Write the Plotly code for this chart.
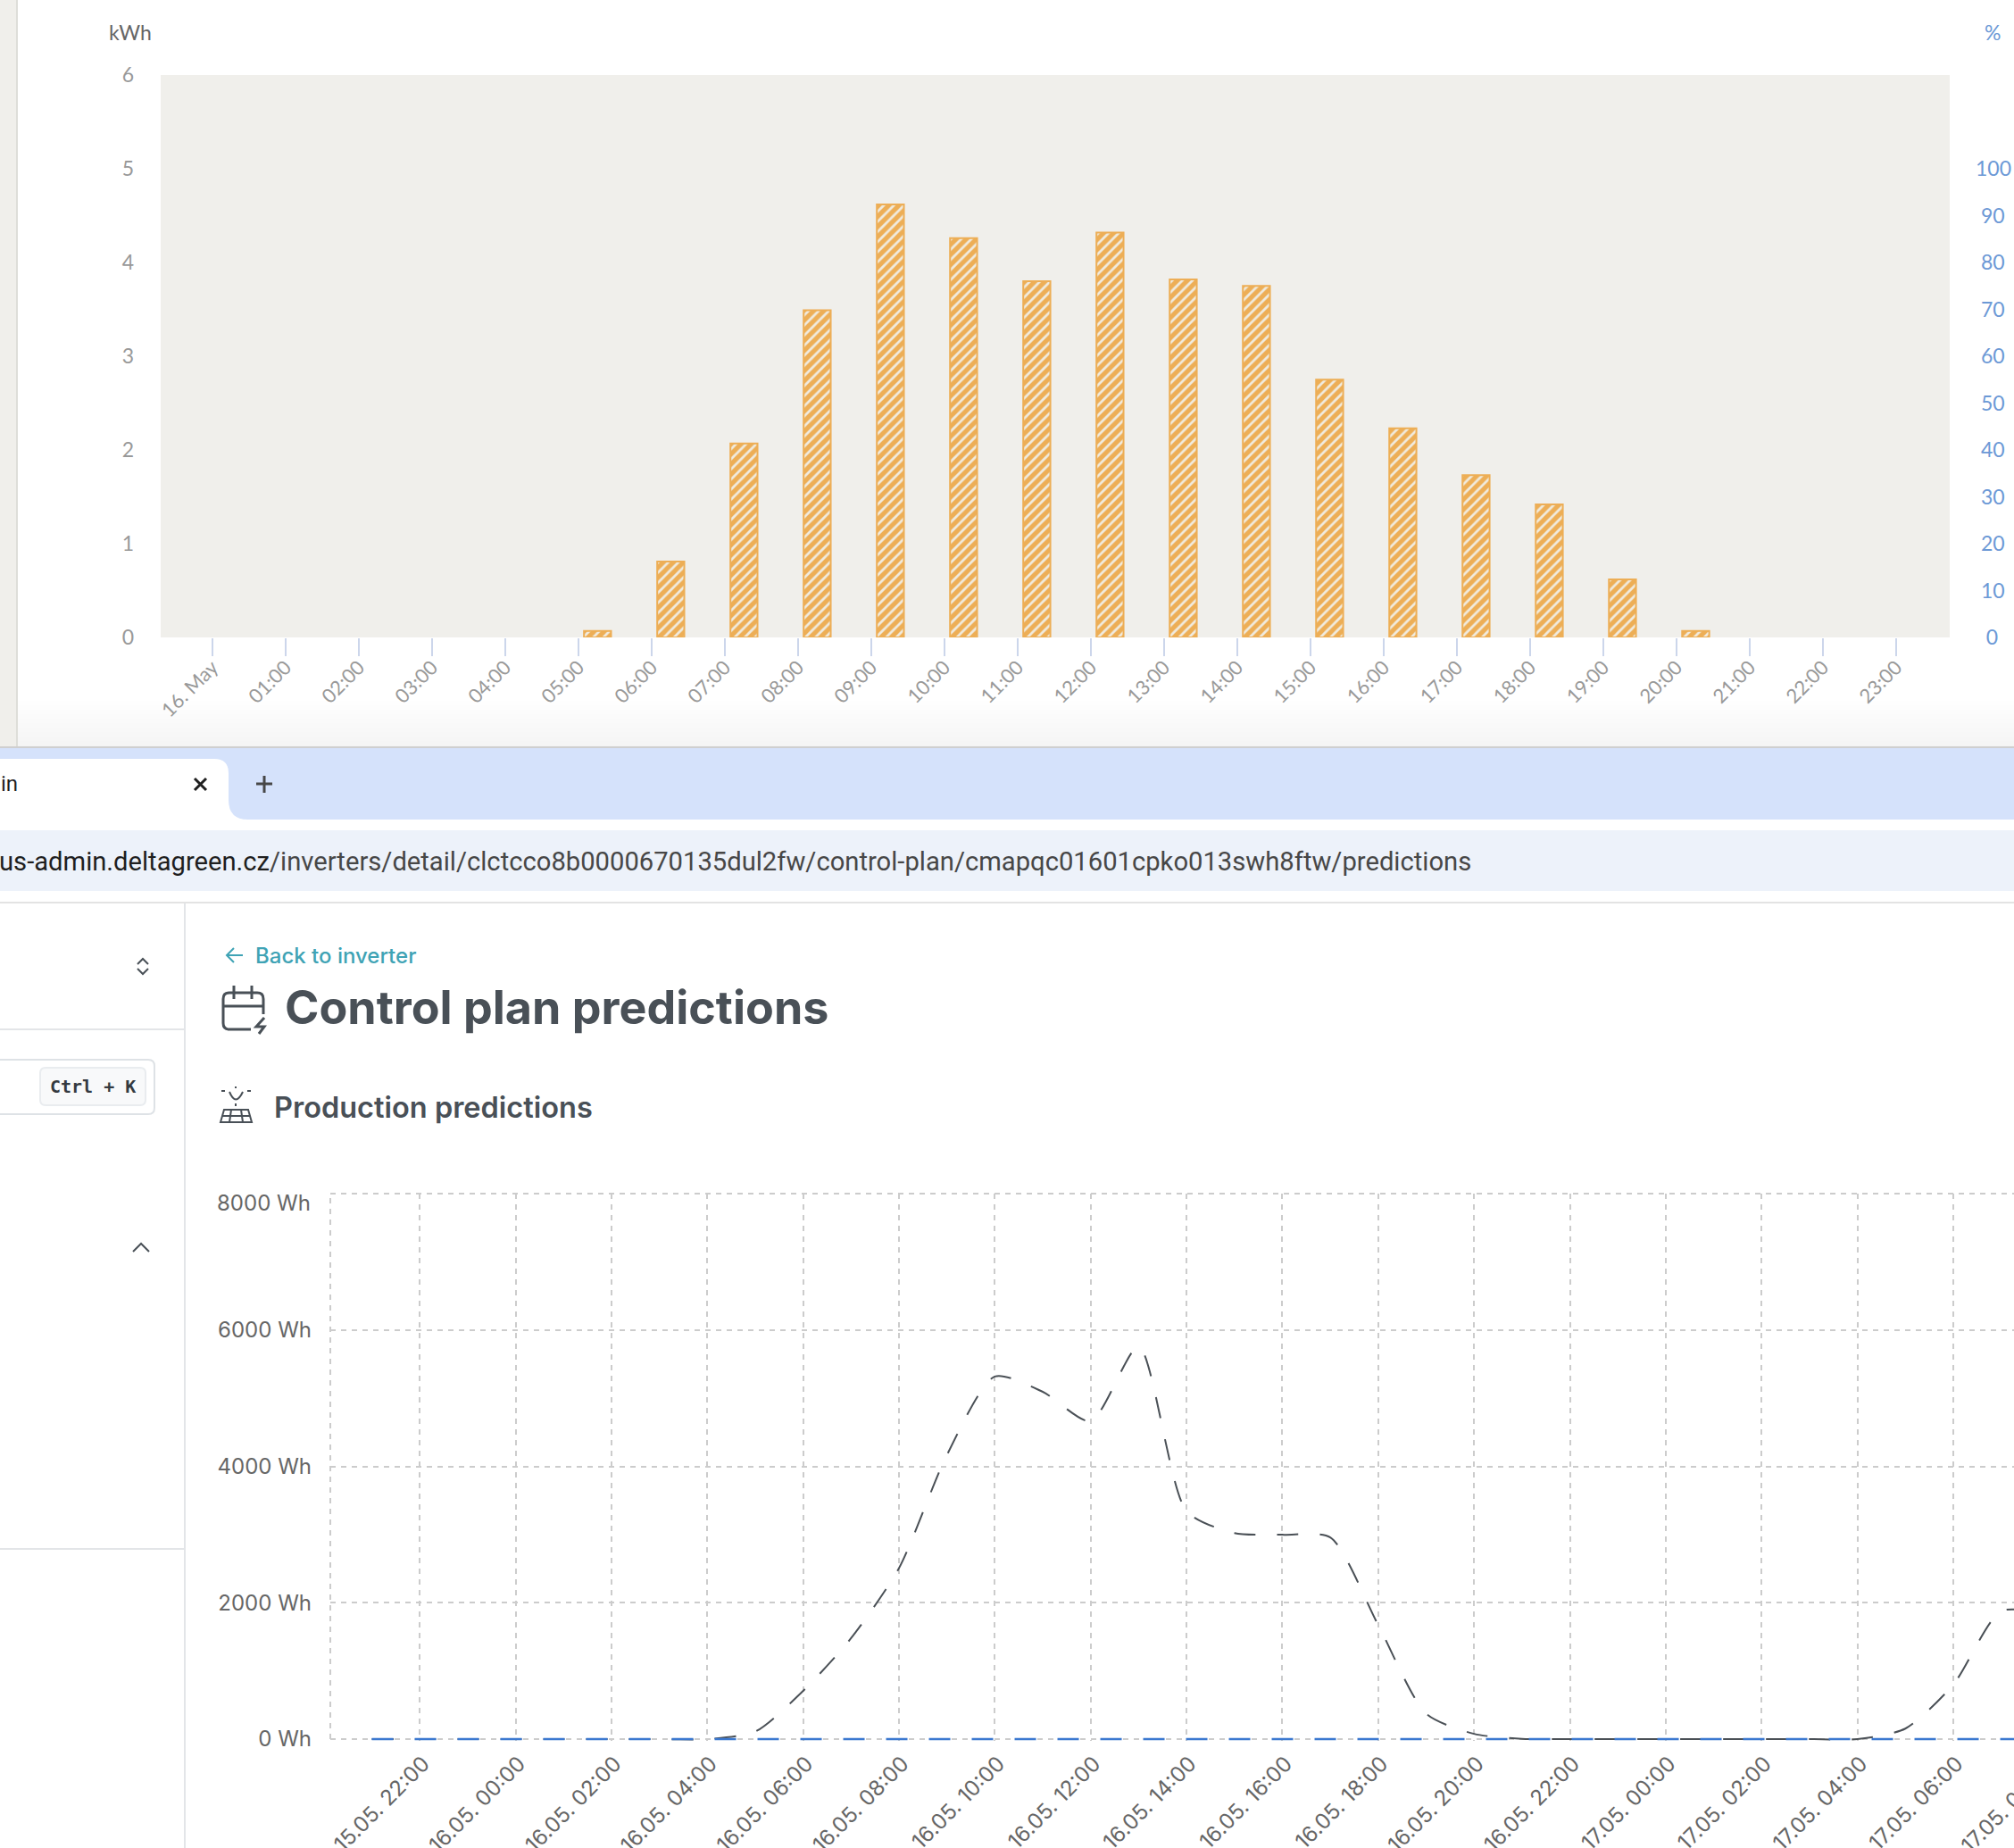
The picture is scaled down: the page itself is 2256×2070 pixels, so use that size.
import plotly.graph_objects as go

W, H = 2256, 2070

# top chart: hourly production, kWh
hour_labels = ["16. May", "01:00", "02:00", "03:00", "04:00", "05:00", "06:00", "07:00",
               "08:00", "09:00", "10:00", "11:00", "12:00", "13:00", "14:00", "15:00",
               "16:00", "17:00", "18:00", "19:00", "20:00", "21:00", "22:00", "23:00"]
hours = list(range(24))
production_kwh = [None, None, None, None, None, 0.07, 0.81, 2.07, 3.49, 4.62, 4.26, 3.80, 4.32, 3.82, 3.75,
                  2.75, 2.23, 1.73, 1.42, 0.62, 0.07, None, None, None]
kwh_ticks = [0, 1, 2, 3, 4, 5, 6]
pct_ticks = [0, 10, 20, 30, 40, 50, 60, 70, 80, 90, 100]
# nbsp padding, the labels sit centred in the original
pct_labels = ["\u00a0\u00a00"] + [f"\u00a0{v}" for v in pct_ticks[1:-1]] + ["100"]

# bottom chart: predictions, Wh
pred_times = ["2025-05-15 21:00", "2025-05-15 22:00", "2025-05-15 23:00",
              "2025-05-16 00:00", "2025-05-16 01:00", "2025-05-16 02:00", "2025-05-16 03:00",
              "2025-05-16 04:00", "2025-05-16 05:00", "2025-05-16 06:00", "2025-05-16 07:00",
              "2025-05-16 08:00", "2025-05-16 09:00", "2025-05-16 10:00", "2025-05-16 11:00",
              "2025-05-16 12:00", "2025-05-16 13:00", "2025-05-16 14:00", "2025-05-16 15:00",
              "2025-05-16 16:00", "2025-05-16 17:00", "2025-05-16 18:00", "2025-05-16 19:00",
              "2025-05-16 20:00", "2025-05-16 21:00", "2025-05-16 22:00", "2025-05-16 23:00",
              "2025-05-17 00:00", "2025-05-17 01:00", "2025-05-17 02:00", "2025-05-17 03:00",
              "2025-05-17 04:00", "2025-05-17 05:00", "2025-05-17 06:00", "2025-05-17 07:00",
              "2025-05-17 08:00"]
predicted_wh = [0, 0, 0, 0, 0, 0, 0, 0, 110, 707, 1480, 2508, 4167, 5318, 5093, 4662, 5755,
                3344, 3022, 2997, 2958, 1672, 373, 77, 5, 0, 0, 0, 0, 0, 0, 0, 154, 800, 1878, 1820]
actual_wh = [0] * 36
date_ticks = ["2025-05-15 22:00", "2025-05-16 00:00", "2025-05-16 02:00", "2025-05-16 04:00",
              "2025-05-16 06:00", "2025-05-16 08:00", "2025-05-16 10:00", "2025-05-16 12:00",
              "2025-05-16 14:00", "2025-05-16 16:00", "2025-05-16 18:00", "2025-05-16 20:00",
              "2025-05-16 22:00", "2025-05-17 00:00", "2025-05-17 02:00", "2025-05-17 04:00",
              "2025-05-17 06:00"]
date_labels = ["15.05. 22:00", "16.05. 00:00", "16.05. 02:00", "16.05. 04:00", "16.05. 06:00",
               "16.05. 08:00", "16.05. 10:00", "16.05. 12:00", "16.05. 14:00", "16.05. 16:00",
               "16.05. 18:00", "16.05. 20:00", "16.05. 22:00", "17.05. 00:00", "17.05. 02:00",
               "17.05. 04:00", "17.05. 06:00"]
wh_ticks = [0, 2000, 4000, 6000, 8000]
wh_labels = ["0 Wh", "2000 Wh", "4000 Wh", "6000 Wh", ""]

GRID = "#CCCCCC"
GRID_DASH = "6px,6px"


def fx(x):
    return x / W


def fy(y):
    return 1 - y / H


def rect(x0, y0, x1, y1, fill, line=None, lw=0):
    return dict(type="rect", xref="paper", yref="paper", layer="below",
                x0=fx(x0), x1=fx(x1), y0=fy(y0), y1=fy(y1),
                fillcolor=fill, line=dict(color=line or fill, width=lw))


def poly(points, color, lw=2, fill=None):
    # points given in page pixels, a few of them are curve commands
    d = ""
    for p in points:
        if isinstance(p, str):
            d += p + " "
        else:
            d += f"{fx(p[0]):.5f},{fy(p[1]):.5f} "
    return dict(type="path", xref="paper", yref="paper", layer="above", path=d.strip(),
                line=dict(color=color, width=lw), fillcolor=fill or "rgba(0,0,0,0)")


def text(x, y, s, color, size, family="Inter", weight=400, xanchor="left", angle=0):
    return dict(xref="paper", yref="paper", x=fx(x), y=fy(y), text=s, showarrow=False,
                xanchor=xanchor, yanchor="middle", textangle=angle,
                font=dict(family=family, size=size, color=color, weight=weight))


fig = go.Figure()
fig.add_trace(go.Bar(
    x=hours, y=production_kwh, offset=0.075, width=0.37, xaxis="x", yaxis="y",
    marker=dict(color="#EDAE56", line=dict(color="#EDAE56", width=2),
                pattern=dict(shape="/", size=8, solidity=0.65, fgcolor="#EDAE56", fgopacity=1,
                             bgcolor="#F0EBDF", fillmode="replace")),
))
# right axis has no bars on it, only its scale
fig.add_trace(go.Scatter(x=hours, y=[None] * 24, xaxis="x", yaxis="y2", mode="lines"))
fig.add_trace(go.Scatter(
    x=pred_times, y=predicted_wh, xaxis="x2", yaxis="y3", mode="lines",
    line=dict(color="#4A5056", width=2, dash="24px,24px", shape="spline", smoothing=0.7),
))
fig.add_trace(go.Scatter(
    x=pred_times, y=actual_wh, xaxis="x2", yaxis="y3", mode="lines",
    line=dict(color="#3B78D0", width=2.5, dash="24px,24px"),
))

shapes = [
    # left strip and fade of the upper screenshot
    rect(0, 0, 18, 838, "#F0EFEB"),
    rect(18, 0, 20, 838, "#DEDED9"),
]
for i in range(12):
    v = 255 - i
    shapes.append(rect(20, 780 + i * 5, W, 785 + i * 5 + 1, f"rgb({v},{v},{v})"))
shapes += [
    rect(0, 836, W, 838, "#CFCFCF"),
    # browser bars
    rect(0, 838, W, 918, "#D5E2FB"),
    rect(0, 918, W, 1010, "#FFFFFF"),
    rect(0, 930, W, 998, "#EDF2FA"),
    rect(0, 1010, W, 1012, "#E3E3E3"),
    rect(206, 1012, 208, H, "#E3E5E8"),
    rect(0, 1152, 207, 1154, "#E3E5E8"),
    rect(0, 1734, 207, 1736, "#E3E5E8"),
    # top chart background
    dict(type="rect", xref="x domain", yref="y domain", layer="below", x0=0, x1=1, y0=0, y1=1,
         fillcolor="#F0EFEB", line=dict(width=0)),
    # edges of the lower grid, plotly drops the gridlines that sit on them
    dict(type="line", xref="x2 domain", yref="y3", layer="below", x0=0, x1=0, y0=0, y1=8000,
         line=dict(color=GRID, width=2, dash=GRID_DASH)),
    dict(type="line", xref="x2 domain", yref="y3 domain", layer="below", x0=0, x1=1, y0=1, y1=1,
         line=dict(color=GRID, width=2, dash=GRID_DASH)),
    # search box
    dict(type="path", xref="paper", yref="paper", layer="above",
         path=f"M {fx(-2)},{fy(1187)} L {fx(166)},{fy(1187)} Q {fx(173)},{fy(1187)} {fx(173)},{fy(1194)} "
              f"L {fx(173)},{fy(1241)} Q {fx(173)},{fy(1248)} {fx(166)},{fy(1248)} L {fx(-2)},{fy(1248)}",
         line=dict(color="#DEE2E6", width=2), fillcolor="#FFFFFF"),
    dict(type="path", xref="paper", yref="paper", layer="above",
         path=f"M {fx(51)},{fy(1196)} L {fx(157)},{fy(1196)} Q {fx(163)},{fy(1196)} {fx(163)},{fy(1202)} "
              f"L {fx(163)},{fy(1232)} Q {fx(163)},{fy(1238)} {fx(157)},{fy(1238)} L {fx(51)},{fy(1238)} "
              f"Q {fx(45)},{fy(1238)} {fx(45)},{fy(1232)} L {fx(45)},{fy(1202)} Q {fx(45)},{fy(1196)} {fx(51)},{fy(1196)} Z",
         line=dict(color="#E9ECEF", width=2), fillcolor="#F8F9FA"),
    # active tab
    dict(type="path", xref="paper", yref="paper", layer="above",
         path=f"M {fx(0)},{fy(850)} L {fx(240)},{fy(850)} Q {fx(256)},{fy(850)} {fx(256)},{fy(866)} "
              f"L {fx(256)},{fy(896)} Q {fx(256)},{fy(918)} {fx(278)},{fy(918)} L {fx(0)},{fy(918)} Z",
         line=dict(width=0), fillcolor="#FFFFFF"),
    # tab close and plus
    poly(["M", (218, 872), "L", (231, 885), "M", (231, 872), "L", (218, 885)], "#1F1F1F", 3),
    poly(["M", (296, 869), "L", (296, 888), "M", (287, 878), "L", (305, 878)], "#474747", 3),
    # sidebar chevrons
    poly(["M", (154, 1080), "L", (160, 1074), "L", (166, 1080)], "#495057", 2),
    poly(["M", (154, 1085), "L", (160, 1091), "L", (166, 1085)], "#495057", 2),
    poly(["M", (149, 1402), "L", (158, 1393), "L", (167, 1402)], "#495057", 2),
    # back arrow
    poly(["M", (262, 1062), "L", (254, 1070), "L", (262, 1078), "M", (254, 1070), "L", (272, 1070)], "#3FA3B5", 2),
    # calendar icon
    poly(["M", (281, 1153), "L", (257, 1153), "Q", (250, 1153), (250, 1146), "L", (250, 1119), "Q", (250, 1112), (257, 1112),
          "L", (288, 1112), "Q", (295, 1112), (295, 1119), "L", (295, 1136)], "#495057", 3),
    poly(["M", (250, 1127), "L", (295, 1127)], "#495057", 3),
    poly(["M", (262, 1104), "L", (262, 1119), "M", (282, 1104), "L", (282, 1119)], "#495057", 3),
    poly(["M", (296, 1140), "L", (287, 1150), "L", (296, 1150), "L", (290, 1158)], "#495057", 3),
    # solar panel icon
    poly(["M", (251, 1243), "L", (278, 1243), "L", (282, 1257), "L", (247, 1257), "Z"], "#495057", 2),
    poly(["M", (249, 1250), "L", (280, 1250), "M", (259, 1243), "L", (257, 1257), "M", (270, 1243), "L", (272, 1257)], "#495057", 2),
    poly(["M", (257, 1223), "Q", (264, 1240), (272, 1223)], "#495057", 2),
    poly(["M", (264, 1236), "L", (264, 1239), "M", (248, 1222), "L", (252, 1222), "M", (277, 1222), "L", (281, 1222),
          "M", (264, 1217), "L", (264, 1219)], "#495057", 2),
]

annotations = [
    text(120, 36, "kWh", "#666666", 23, "Lato"),
    text(2232, 36, "%", "#6C99D6", 23, "Lato", xanchor="center"),
    text(-1, 878, "in", "#1F1F1F", 24, "Roboto"),
    text(-3, 965, '<span style="color:#1F1F1F">us-admin.deltagreen.cz</span>/inverters/detail/clctcco8b0000670135dul2fw/control-plan/cmapqc01601cpko013swh8ftw/predictions',
         "#474747", 29.2, "Roboto"),
    text(104, 1217, "Ctrl + K", "#343A40", 20, "DejaVu Sans Mono", 700, xanchor="center"),
    text(284, 1070, "Back to inverter", "#3FA3B5", 24, "Inter", 500),
    text(317, 1128, "Control plan predictions", "#495057", 52, "Inter", 700),
    text(305, 1240, "Production predictions", "#495057", 32.5, "Inter", 600),
    text(350, 1347, "8000 Wh", "#666666", 24, "Inter", xanchor="right"),
    # tick past the window edge, the axis would drop it
    dict(xref="paper", yref="paper", x=fx(2311), y=fy(1961), text="17.05. 08:00", showarrow=False,
         xanchor="right", yanchor="top", textangle=-45,
         font=dict(family="Inter", size=24, color="#666666")),
]

fig.update_layout(
    width=W, height=H, margin=dict(l=0, r=0, t=0, b=0), autosize=False, showlegend=False,
    paper_bgcolor="#FFFFFF", plot_bgcolor="rgba(0,0,0,0)", barmode="overlay",
    shapes=shapes, annotations=annotations,
    xaxis=dict(domain=[fx(180), fx(2184)], range=[-0.707, 23.73], anchor="y", tickmode="array",
               tickvals=hours, ticktext=hour_labels, tickangle=-45, ticks="outside", ticklen=20,
               tickwidth=2, tickcolor="#CCD6EB", showgrid=False, zeroline=False, showline=False,
               automargin=False, ticklabelstandoff=-9,
               tickfont=dict(family="Lato", size=22, color="#999999")),
    yaxis=dict(domain=[fy(714), fy(84)], range=[0, 6], anchor="x", tickmode="array", tickvals=kwh_ticks,
               showgrid=False, zeroline=False, ticks="", ticklabelstandoff=29, automargin=False,
               tickfont=dict(family="Lato", size=23, color="#999999")),
    yaxis2=dict(domain=[fy(714), fy(84)], range=[0, 120], anchor="x", overlaying="y", side="right",
                tickmode="array", tickvals=pct_ticks, ticktext=pct_labels,
                showgrid=False, zeroline=False, ticks="", ticklabelstandoff=28, automargin=False,
                tickfont=dict(family="Lato", size=23, color="#6C99D6")),
    xaxis2=dict(domain=[fx(370), 1], type="date", range=["2025-05-15 20:08", "2025-05-17 07:16"], anchor="y3",
                tickmode="array", tickvals=date_ticks, ticktext=date_labels, tickangle=-45,
                showgrid=True, gridcolor=GRID, gridwidth=2, griddash=GRID_DASH, zeroline=False,
                ticks="outside", ticklen=1, tickcolor="rgba(0,0,0,0)", automargin=False, ticklabelshift=4,
                tickfont=dict(family="Inter", size=24, color="#666666")),
    # range dips under zero so the flat zero line is not clipped in half
    yaxis3=dict(domain=[fy(1950), fy(1337)], range=[-26, 8000], anchor="x2", tickmode="array",
                tickvals=wh_ticks, ticktext=wh_labels, showgrid=True, gridcolor=GRID, gridwidth=2,
                griddash=GRID_DASH, zeroline=False, ticks="", ticklabelstandoff=20, automargin=False,
                tickfont=dict(family="Inter", size=24, color="#666666")),
)

fig.write_html("out.html", config=dict(displayModeBar=False), post_script="document.body.style.margin='0';")
